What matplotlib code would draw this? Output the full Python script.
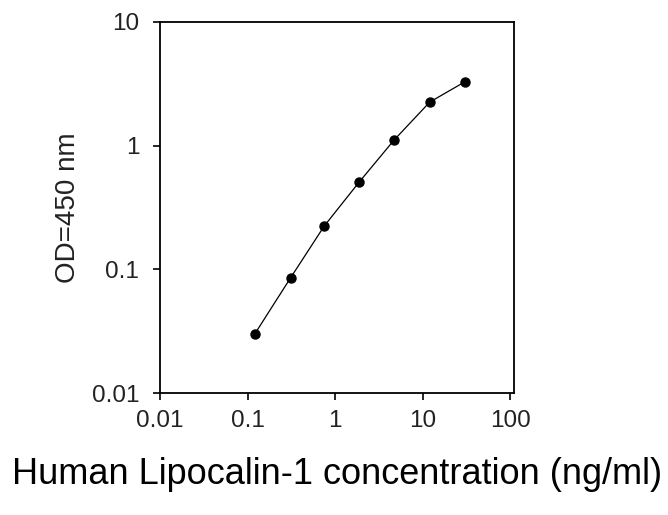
import matplotlib
matplotlib.use("Agg")
import matplotlib.pyplot as plt
from matplotlib.ticker import FixedLocator, FixedFormatter, NullLocator

plt.rcParams['font.family'] = ['Liberation Sans', 'DejaVu Sans']

conc = [0.12, 0.31, 0.75, 1.88, 4.7, 12.0, 30.6]
od = [0.0298, 0.0855, 0.224, 0.508, 1.11, 2.25, 3.3]

x_ticks = [0.01, 0.1, 1, 10, 100]
x_labels = ["0.01", "0.1", "1", "10", "100"]
y_ticks = [0.01, 0.1, 1, 10]
y_labels = ["0.01", "0.1", "1", "10"]

fig = plt.figure(figsize=(6.68, 5.15), dpi=100)
ax = fig.add_axes([160/668, 1-393/515, 354/668, 371/515])
ax.plot(conc, od, color='black', lw=0.9, marker='o', ms=6.5, mfc='black', mec='black')
ax.set_xscale('log')
ax.set_yscale('log')
ax.set_xlim(0.01, 110)
ax.set_ylim(0.01, 10)
ax.xaxis.set_major_locator(FixedLocator(x_ticks))
ax.xaxis.set_major_formatter(FixedFormatter(x_labels))
ax.yaxis.set_major_locator(FixedLocator(y_ticks))
ax.yaxis.set_major_formatter(FixedFormatter(y_labels))
ax.xaxis.set_minor_locator(NullLocator())
ax.yaxis.set_minor_locator(NullLocator())
ax.tick_params(axis='both', which='major', direction='out', length=5, width=1.2,
               labelsize=17.5, labelcolor='#222222')
ax.tick_params(axis='x', pad=7)
ax.tick_params(axis='y', pad=10)
for s in ax.spines.values():
    s.set_linewidth(1.3)
ax.set_xlabel("Human Lipocalin-1 concentration (ng/ml)", fontsize=26)
ax.set_ylabel("OD=450 nm", fontsize=20, color='#222222')
ax.xaxis.set_label_coords(0.5, -(475-393)/371, transform=ax.transAxes)
ax.yaxis.set_label_coords(-(160-68)/354, 0.5, transform=ax.transAxes)
ax.xaxis.label.set_va('center')
ax.yaxis.label.set_va('center')
fig.savefig("out.png", dpi=100)
